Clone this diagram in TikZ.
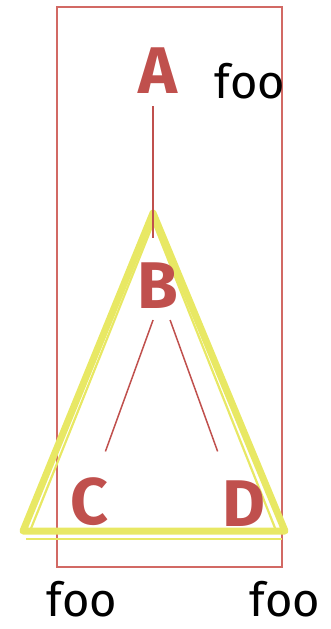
\documentclass[tikz,border=0pt]{standalone}
\usepackage{fontspec}
\setmainfont{Fira Sans}
\definecolor{nodered}{RGB}{192,80,77}
\definecolor{boxred}{RGB}{210,105,100}
\definecolor{triyellow}{RGB}{232,232,100}
\begin{document}
\begin{tikzpicture}[x=1pt,y=-1pt,
  letter/.style={font=\fontsize{66}{66}\selectfont\bfseries, text=nodered, inner sep=0pt, anchor=base},
  foolabel/.style={font=\fontsize{47}{47}\selectfont, text=black, inner sep=0pt, anchor=base},
  edge/.style={draw=nodered, line width=1.5pt},
  thick tri/.style={draw=triyellow, line width=7pt, line join=round, line cap=round},
  thin tri/.style={draw=triyellow, line width=2.2pt},
  ]
\useasboundingbox (0,0) rectangle (331,629);
\draw[boxred, line width=1.8pt] (57,7) rectangle (282,567);
% yellow sketchy triangle
\draw[thick tri] (153,213) -- (285,531) -- (23,531) -- cycle;
\draw[thin tri] (153,224) -- (30,531);
\draw[thin tri] (154,224) -- (277,533);
\draw[thin tri] (26,539) -- (282,539);
% tree positions
\coordinate (pA) at (153,70);
\coordinate (pB) at (161.6,296.5);
\coordinate (pC) at (86,505);
\coordinate (pD) at (237,505);
% labels
\node[letter] (A) at (158,93) {A};
\node[letter] (B) at (158,308) {B};
\node[letter] (C) at (89,524) {C};
\node[letter] (D) at (244,526) {D};
\node[foolabel] (fA) at (250,98) {foo};
\node[foolabel] (fC) at (82,616) {foo};
\node[foolabel] (fD) at (285,616) {foo};
% edges
\draw[edge, shorten <=36pt, shorten >=59pt] (pA) -- (pA |- pB);
\draw[edge, shorten <=25pt, shorten >=57pt] (pB) -- (pC);
\draw[edge, shorten <=25pt, shorten >=57pt] (pB) -- (pD);
\end{tikzpicture}
\end{document}
